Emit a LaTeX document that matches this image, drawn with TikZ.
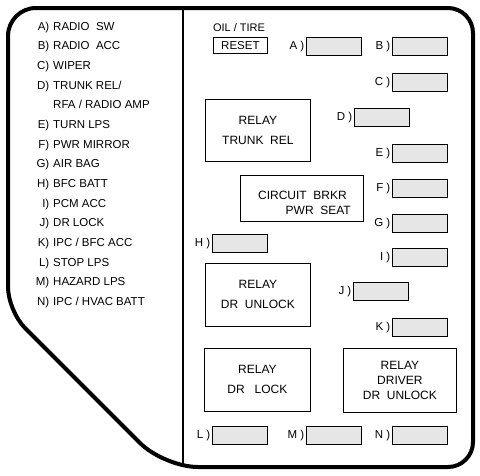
\documentclass[tikz,border=0pt]{standalone}
\usepackage{fontspec}
\setmainfont{Liberation Sans}
\definecolor{fusegray}{HTML}{E6E6E6}
\begin{document}
\begin{tikzpicture}[x=1pt,y=-1pt,
  font=\fontsize{11.5}{14}\selectfont,
  fusebox/.style={draw, fill=fusegray, line width=0.8pt, minimum width=55pt, minimum height=17.5pt, inner sep=0pt, anchor=north west},
  fuselbl/.style={anchor=east, inner sep=0pt, xshift=-1.5pt},
  relaybox/.style={draw, line width=0.8pt, inner sep=0pt, anchor=north west, align=center, font=\fontsize{12}{20}\selectfont},
  listlbl/.style={anchor=base east, inner sep=0pt},
  listtxt/.style={anchor=base west, inner sep=0pt}]
\useasboundingbox (0,0) rectangle (480,475);
% outer outline
\draw[line width=4pt, line join=round]
  (8,150) [rounded corners=28pt] -- (8,8) [rounded corners=25pt] -- (473,8) -- (473,467)
  [rounded corners=34pt] -- (164,467) [rounded corners=24pt] -- (8,311) -- cycle;
% divider
\draw[line width=1.4pt] (183,8) -- (183,467);
% list
\foreach \l/\t [count=\i from 0] in {A)/{RADIO\ \ SW}, B)/{RADIO\ \ ACC}, C)/{WIPER}, D)/{TRUNK REL\slash}, {}/{RFA / RADIO AMP}, E)/{TURN LPS}, F)/{PWR MIRROR}, G)/{AIR BAG}, H)/{BFC BATT}, I)/{PCM ACC}, J)/{DR LOCK}, K)/{IPC / BFC ACC}, L)/{STOP LPS}, M)/{HAZARD LPS}, N)/{IPC / HVAC BATT}}{
  \node[listlbl] (l\i) at (49.5,{30.2+19.65*\i}) {\l};
  \node[listtxt] (t\i) at (53,{30.2+19.65*\i}) {\t};
}
% oil / tire reset
\node[inner sep=0pt, font=\fontsize{11}{12}\selectfont] (oil) at (239,27.5) {OIL / TIRE};
\node[draw, line width=0.8pt, minimum width=54pt, minimum height=16pt, inner sep=0pt, anchor=north west] (reset) at (213,37) {RESET};
% fuses
\node[fusebox] (fA) at (306,37) {}; \node[fuselbl] (lA) at (fA.west) {A )};
\node[fusebox] (fB) at (392,37) {}; \node[fuselbl] (lB) at (fB.west) {B )};
\node[fusebox] (fC) at (392,73) {}; \node[fuselbl] (lC) at (fC.west) {C )};
\node[fusebox] (fD) at (354,108) {}; \node[fuselbl] (lD) at (fD.west) {D )};
\node[fusebox] (fE) at (392,144) {}; \node[fuselbl] (lE) at (fE.west) {E )};
\node[fusebox] (fF) at (392,179) {}; \node[fuselbl] (lF) at (fF.west) {F )};
\node[fusebox] (fG) at (392,214) {}; \node[fuselbl] (lG) at (fG.west) {G )};
\node[fusebox] (fH) at (212,234) {}; \node[fuselbl] (lH) at (fH.west) {H )};
\node[fusebox] (fI) at (392,248) {}; \node[fuselbl] (lI) at (fI.west) {I )};
\node[fusebox] (fJ) at (353,282) {}; \node[fuselbl] (lJ) at (fJ.west) {J )};
\node[fusebox] (fK) at (392,318) {}; \node[fuselbl] (lK) at (fK.west) {K )};
\node[fusebox] (fL) at (212,426) {}; \node[fuselbl] (lL) at (fL.west) {L )};
\node[fusebox] (fM) at (306,426) {}; \node[fuselbl] (lM) at (fM.west) {M )};
\node[fusebox] (fN) at (392,426) {}; \node[fuselbl] (lN) at (fN.west) {N )};
% relays
\node[relaybox, minimum width=105pt, minimum height=62pt] (rTrunk) at (205,99) {RELAY\\TRUNK\ \ REL};
\node[draw, line width=0.8pt, inner sep=0pt, anchor=north west, minimum width=123pt, minimum height=46pt] (cb) at (240,175) {};
\node[anchor=base east, inner sep=0pt, font=\fontsize{12}{14}\selectfont] (cb1) at (347,199.5) {CIRCUIT\ \ BRKR};
\node[anchor=base east, inner sep=0pt, font=\fontsize{12}{14}\selectfont] (cb2) at (351,214.5) {PWR\ \ SEAT};
\node[relaybox, minimum width=105pt, minimum height=63pt] (rUnlock) at (205,263) {RELAY\\DR\ \ UNLOCK};
\node[relaybox, minimum width=106pt, minimum height=63pt] (rLock) at (204,348) {RELAY\\DR\ \ \ LOCK};
\node[relaybox, minimum width=113pt, minimum height=64pt, font=\fontsize{12}{15}\selectfont] (rDrv) at (343,348) {RELAY\\DRIVER\\DR\ \ UNLOCK};
\end{tikzpicture}
\end{document}
